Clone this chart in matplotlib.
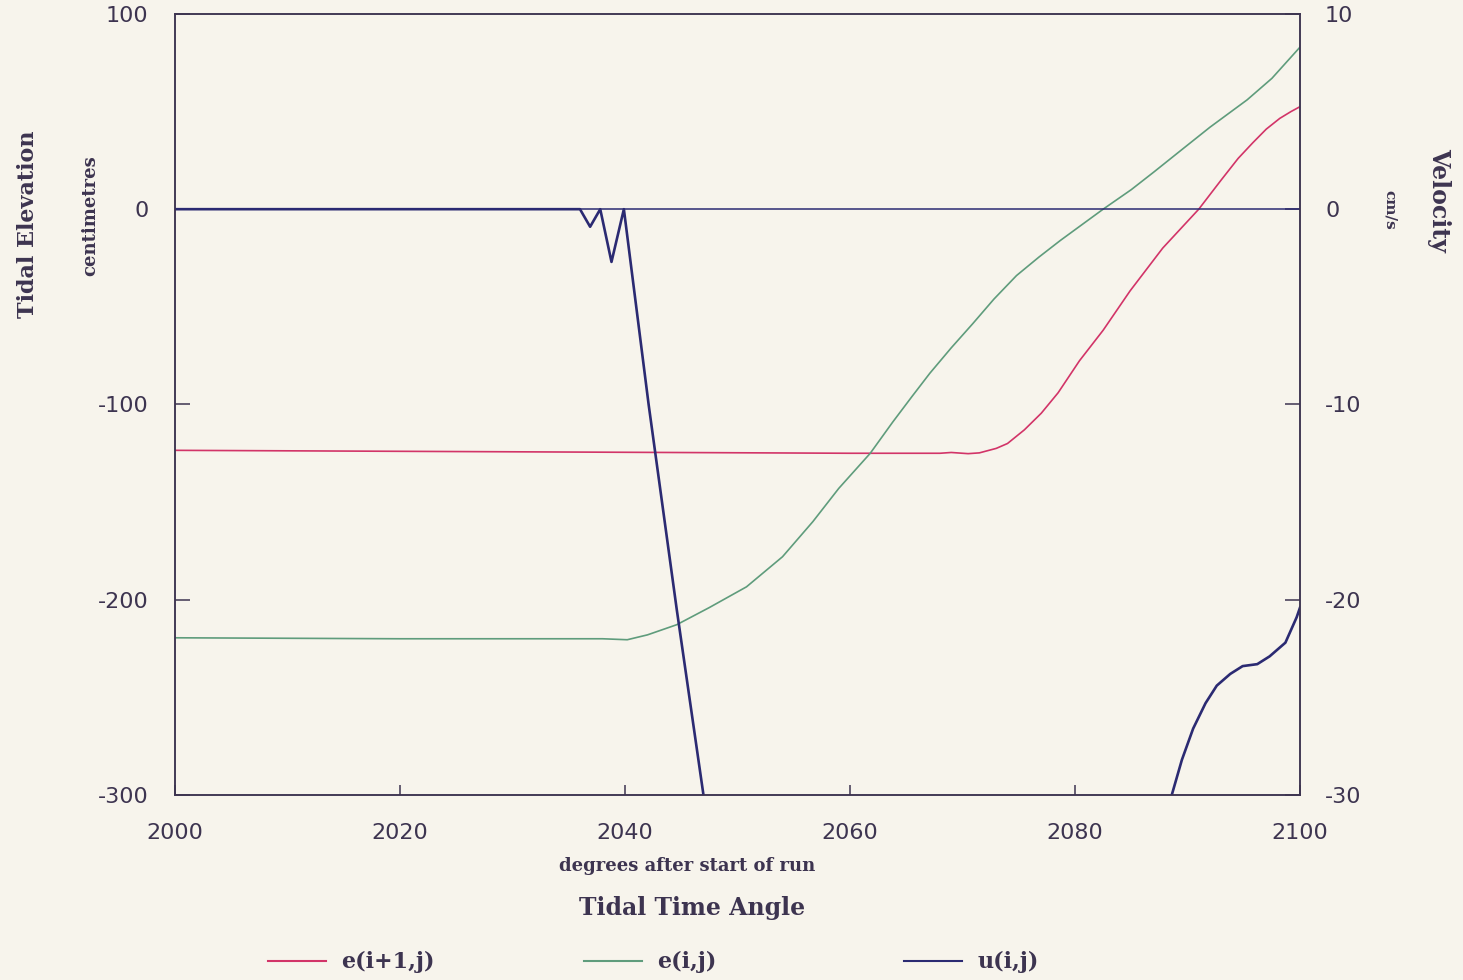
import matplotlib.pyplot as plt
from matplotlib.lines import Line2D

plt.rcParams['axes.unicode_minus'] = False

# elevation series (centimetres) against tidal time angle (degrees)
red_x = [2000, 2020, 2040, 2060, 2068, 2069, 2070.5, 2071.5, 2073, 2074, 2075.5,
         2077, 2078.5, 2080.4, 2082.5, 2084.9, 2087.8, 2091, 2093, 2094.5,
         2095.8, 2097, 2098.2, 2099.2, 2100]
red_y = [-123.5, -124, -124.5, -125, -125, -124.6, -125.2, -124.8, -122.5, -120, -113,
         -104.5, -94, -77.6, -62, -41.8, -19.9, 0, 15, 26,
         34, 41, 46.5, 50, 52.5]

green_x = [2000, 2020, 2038, 2040.2, 2042, 2044.6, 2047.5, 2050.8, 2054, 2056.7,
           2059, 2061.8, 2063.8, 2065.5, 2067.1, 2069, 2070.9, 2072.8, 2074.8,
           2076.8, 2078.7, 2080.6, 2082.5, 2085, 2087, 2089.3, 2092, 2095.3,
           2097.5, 2100]
green_y = [-219.5, -220, -220, -220.5, -218, -212.8, -204, -193.4, -178, -160,
           -143, -125, -109, -96, -84, -71, -58.7, -46, -34,
           -24.5, -16, -8, 0, 10, 19, 29.6, 42, 56,
           67, 83]

# velocity series (cm/s)
u_x = [2000, 2036, 2036.9, 2037.8, 2038.8, 2039.9, 2042.1, 2044.6, 2047.1,
       2048, 2060, 2075, 2087, 2088.6, 2089.5, 2090.5, 2091.6, 2092.6, 2093.8,
       2094.9, 2096.2, 2097.3, 2098.7, 2099.7, 2100]
u_y = [0, 0, -0.9, 0, -2.7, 0, -10, -20.5, -30.5,
       -34, -45, -45, -33, -30, -28.2, -26.6, -25.3, -24.4, -23.8,
       -23.4, -23.3, -22.9, -22.2, -20.9, -20.4]

bg = '#f7f4ec'
ink = '#3d3450'
red = '#d23468'
green = '#5f9c7c'
navy = '#2b2a72'

fig = plt.figure(figsize=(14.63, 9.8), dpi=100, facecolor=bg)
ax = fig.add_axes([0.1196, 0.1888, 0.769, 0.797])
ax.set_facecolor(bg)
ax2 = ax.twinx()

ax.plot(red_x, red_y, color=red, lw=1.2)
ax.plot(green_x, green_y, color=green, lw=1.2)
ax2.axhline(0, color=navy, lw=1.1)
ax2.plot(u_x, u_y, color=navy, lw=1.9)

ax.set_xlim(2000, 2100)
ax.set_ylim(-300, 100)
ax2.set_ylim(-30, 10)
ax.set_xticks([2000, 2020, 2040, 2060, 2080, 2100])
ax.set_yticks([-300, -200, -100, 0, 100])
ax2.set_yticks([-30, -20, -10, 0, 10])

for a in (ax, ax2):
    for s in a.spines.values():
        s.set_color(ink)
        s.set_linewidth(1.1)
ax.tick_params(axis='y', direction='in', length=11, width=1.1, color=ink,
               labelcolor=ink, labelsize=16, pad=19)
ax.tick_params(axis='x', direction='in', length=7, width=1.1, color=ink,
               labelcolor=ink, labelsize=16, pad=20)
ax2.tick_params(axis='y', direction='in', length=11, width=1.1, color=ink,
                labelcolor=ink, labelsize=16, pad=18)

serif = 'DejaVu Serif'
fig.text(0.019, 0.771, 'Tidal Elevation', rotation=90, ha='center', va='center',
         fontsize=16, fontweight='bold', family=serif, color=ink)
fig.text(0.062, 0.78, 'centimetres', rotation=90, ha='center', va='center',
         fontsize=13, fontweight='bold', family=serif, color=ink)
fig.text(0.984, 0.796, 'Velocity', rotation=-90, ha='center', va='center',
         fontsize=17, fontweight='bold', family=serif, color=ink)
fig.text(0.95, 0.786, 'cm/s', rotation=-90, ha='center', va='center',
         fontsize=11, fontweight='bold', family=serif, color=ink)
fig.text(0.47, 0.116, 'degrees after start of run', ha='center', va='center',
         fontsize=13, fontweight='bold', family=serif, color=ink)
fig.text(0.473, 0.073, 'Tidal Time Angle', ha='center', va='center',
         fontsize=17, fontweight='bold', family=serif, color=ink)

# legend along the bottom
names = ['e(i+1,j)', 'e(i,j)', 'u(i,j)']
colors = [red, green, navy]
starts = [0.183, 0.399, 0.618]
for name, c, x0 in zip(names, colors, starts):
    h = Line2D([], [], color=c, lw=1.5)
    leg = fig.legend([h], [name], loc='center left', bbox_to_anchor=(x0, 0.018),
                     frameon=False, handlelength=2.6, handletextpad=0.7,
                     borderpad=0, borderaxespad=0,
                     prop={'family': serif, 'weight': 'bold', 'size': 16})
    for t in leg.get_texts():
        t.set_color(ink)

fig.savefig('out.png', dpi=100, facecolor=bg)
